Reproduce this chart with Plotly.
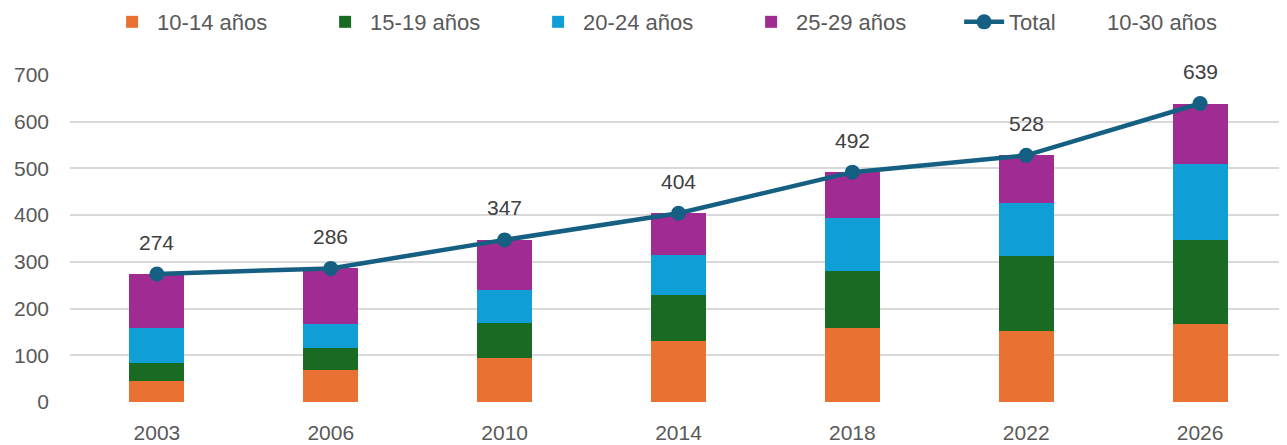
import plotly.graph_objects as go

years = ["2003", "2006", "2010", "2014", "2018", "2022", "2026"]
age_10_14 = [46, 68, 95, 130, 158, 152, 168]
age_15_19 = [38, 47, 75, 98, 122, 160, 179]
age_20_24 = [74, 53, 70, 87, 113, 114, 162]
age_25_29 = [116, 118, 107, 89, 99, 102, 130]
total = [274, 286, 347, 404, 492, 528, 639]
y_ticks = [0, 100, 200, 300, 400, 500, 600, 700]

FONT = "Liberation Sans"
GREY = "#595959"

fig = go.Figure()
series = [
    ("10-14 años", age_10_14, "#E97132"),
    ("15-19 años", age_15_19, "#196B24"),
    ("20-24 años", age_20_24, "#0F9ED5"),
    ("25-29 años", age_25_29, "#A02B93"),
]
for name, vals, col in series:
    fig.add_trace(go.Bar(x=years, y=vals, name=name, marker=dict(color=col, line=dict(width=0)),
                         width=0.316))

fig.add_trace(go.Scatter(
    x=years, y=total, name="Total",
    mode="lines+markers",
    line=dict(color="#156082", width=4.5),
    marker=dict(color="#156082", size=15),
))

for i, yv in enumerate(total):
    fig.add_annotation(x=i, y=yv, text=str(yv), showarrow=False, yshift=32,
                       font=dict(family=FONT, size=21, color="#404040"))

fig.add_annotation(x=(1105 - 70) / 1217, y=1.162, xref="paper", yref="paper",
                   xanchor="left", yanchor="middle", showarrow=False,
                   text="10-30 años", font=dict(family=FONT, size=22, color=GREY))

fig.update_layout(
    barmode="stack",
    width=1287, height=445,
    margin=dict(l=62, r=8, t=67, b=51, autoexpand=False),
    plot_bgcolor="white", paper_bgcolor="white",
    font=dict(family=FONT, size=21, color=GREY),
    legend=dict(orientation="h", x=0.0305, xanchor="left", y=1.162, yanchor="middle",
                font=dict(family=FONT, size=22, color=GREY),
                itemwidth=40, traceorder="normal", entrywidth=158, entrywidthmode="pixels"),
    xaxis=dict(type="category", showgrid=False, showline=False, ticks="",
               tickfont=dict(size=21, color=GREY), ticklabelstandoff=16),
    yaxis=dict(range=[0, 700], tickvals=y_ticks, showgrid=True, gridcolor="#D9D9D9", gridwidth=1.5,
               zeroline=False, showline=False, ticks="", tickfont=dict(size=21, color=GREY),
               ticklabelstandoff=20),
)
fig.write_html("out.html")
